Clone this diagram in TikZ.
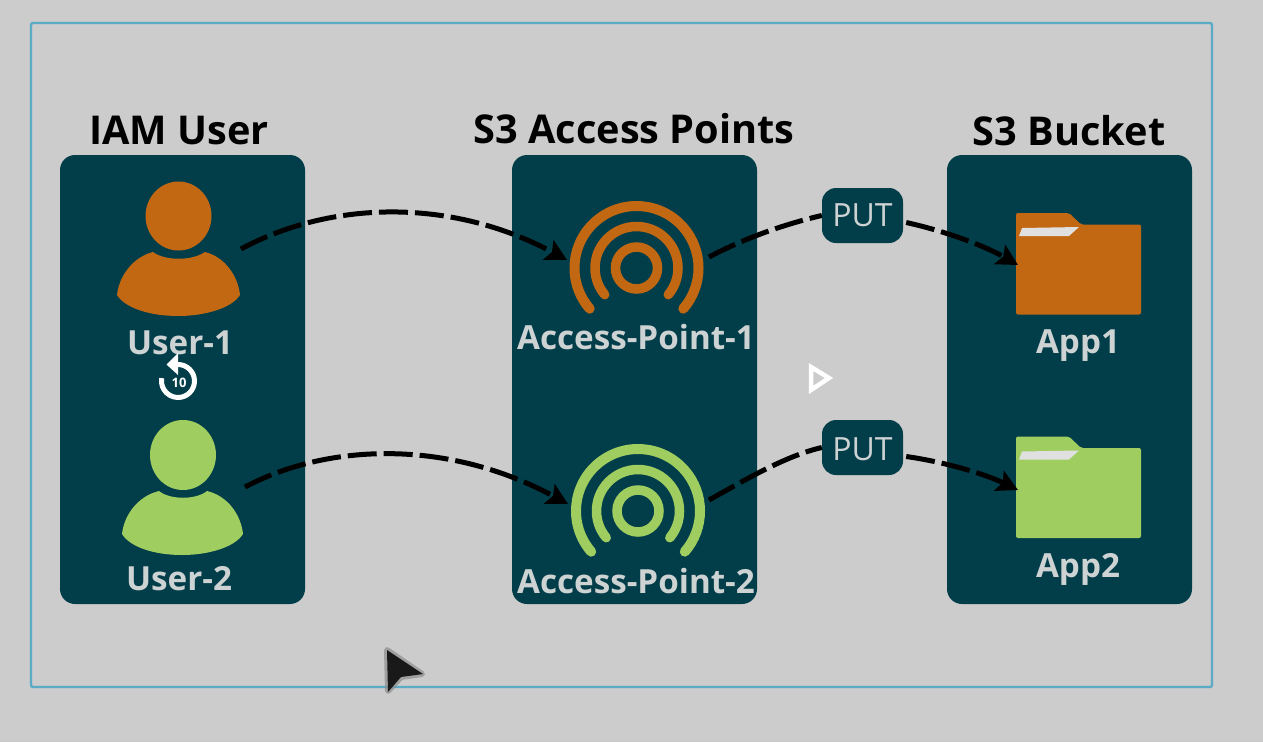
\documentclass[tikz,border=0pt]{standalone}
\usepackage{fontspec}
\setmainfont{Open Sans}
\usetikzlibrary{arrows.meta,calc}
\definecolor{bgc}{HTML}{CCCCCC}
\definecolor{panelc}{HTML}{023E4A}
\definecolor{framec}{HTML}{5BAAC6}
\definecolor{orangec}{HTML}{C26813}
\definecolor{greenc}{HTML}{A0CD60}
\definecolor{labelc}{HTML}{CDD2D3}
\tikzset{
  panel/.style={fill=panelc,rounded corners=15pt,draw=none},
  title/.style={font=\fontsize{39.7}{40}\selectfont\bfseries,text=black,inner sep=0pt},
  label/.style={font=\fontsize{33.2}{33}\selectfont\bfseries,text=labelc,inner sep=0pt},
  putbox/.style={fill=panelc,rounded corners=14pt,minimum width=81pt,minimum height=55pt,inner sep=0pt,
    font=\fontsize{32}{32}\selectfont,text=labelc},
  flow/.style={draw=black,line width=5pt,dash pattern=on 29pt off 7pt},
  tipflow/.style={flow,-{Stealth[length=21pt,width=22pt,inset=4pt]}},
  ring/.style={line width=#1,line cap=round},
}
\begin{document}
\begin{tikzpicture}[x=1pt,y=-1pt]
\useasboundingbox (0,0) rectangle (1263,742);
\fill[bgc] (0,0) rectangle (1263,742);
\draw[framec,line width=2.4pt,rounded corners=2pt] (31,23) rectangle (1212,687);
% panels
\fill[panel] (60,155) rectangle (305,604);
\fill[panel] (512,155) rectangle (757,604);
\fill[panel] (947,155) rectangle (1192,604);
% titles
\node[title] (t1) at (179,130.5) {IAM User};
\node[title] (t2) at (634,129) {S3 Access Points};
\node[title] (t3) at (1069,130.5) {S3 Bucket};
% user 1
\fill[orangec] (178.5,216) ellipse[x radius=33pt,y radius=34.5pt];
\fill[orangec] (153,252) .. controls (165,261) and (192,261) .. (205,252)
  .. controls (225,257) and (238,276) .. (240,295)
  .. controls (232,308) and (205,316) .. (178,316)
  .. controls (150,316) and (125,308) .. (117,295)
  .. controls (119,276) and (133,257) .. (153,252) -- cycle;
\node[label] (u1) at (180,343) {User-1};
% user 2
\fill[greenc] (183,455) ellipse[x radius=33pt,y radius=35pt];
\fill[greenc] (159,491) .. controls (170,500) and (196,500) .. (207,491)
  .. controls (228,496) and (241,515) .. (243,534)
  .. controls (235,547) and (209,555) .. (182,555)
  .. controls (154,555) and (130,547) .. (122,534)
  .. controls (124,515) and (138,496) .. (159,491) -- cycle;
\node[label] (u2) at (179,579) {User-2};
% access points
\coordinate (ap1) at (636.5,268);
\coordinate (ap2) at (638,511);
\foreach \c/\col in {ap1/orangec,ap2/greenc}{
  \draw[\col,line width=9.5pt] (\c) circle[radius=21pt];
  \draw[\col,ring=9.5pt] (\c) ++(220:41.5pt) arc[start angle=220,end angle=-40,radius=41.5pt];
  \draw[\col,ring=10pt] (\c) ++(221:62pt) arc[start angle=221,end angle=-41,radius=62pt];
}
\node[label] (a1) at (636,337.5) {Access-Point-1};
\node[label] (a2) at (636,581.5) {Access-Point-2};
% folders
\foreach \y/\col in {0/orangec,223.5/greenc}{
  \fill[\col,rounded corners=2pt] (1016,213+\y) -- (1069,213+\y) -- (1081,224.5+\y) -- (1141,224.5+\y)
    -- (1141,314.5+\y) -- (1016,314.5+\y) -- cycle;
  \fill[white!88!black] (1022,228+\y) -- (1079,227+\y) -- (1069,236+\y) -- (1019,236+\y) -- cycle;
}
\node[label] (f1) at (1078,345.5) {App1};
\node[label] (f2) at (1078,569.5) {App2};
% PUT boxes
\node[putbox] (p1) at (862.5,215.5) {PUT};
\node[putbox] (p2) at (862.5,447.5) {};
\node[font=\fontsize{32}{32}\selectfont,text=labelc,inner sep=0pt] (p2t) at (862.5,449) {PUT};
% connector ends
\coordinate (s1) at (241,249);
\coordinate (e1) at (567,260);
\coordinate (s2) at (245,487);
\coordinate (e2) at (568,504);
\coordinate (s3) at (709,257);
\coordinate (s4) at (709,500);
\coordinate (e3) at (1018,265);
\coordinate (e4) at (1018,490);
\draw[tipflow] (s1) .. controls (330,201) and (450,197) .. (e1);
\draw[tipflow] (s2) .. controls (330,442) and (450,440) .. (e2);
\draw[flow] (s3) .. controls (745,238) and (785,224) .. (p1.west);
\draw[flow] (s4) .. controls (745,480) and (785,456) .. (p2.west);
\draw[tipflow] (p1.east) ++(3,7) .. controls (945,231) and (985,246) .. (e3);
\draw[tipflow] (p2.east) ++(3,9) .. controls (945,462) and (985,474) .. (e4);
% replay overlay
\coordinate (rp) at (178,381);
\draw[white,line width=5pt] (rp) ++(90:16.5pt) arc[start angle=90,end angle=-190,radius=16.5pt];
\fill[white] (178,353) -- (166.5,364.5) -- (178,375) -- cycle;
\node[text=white,font=\fontsize{13}{13}\selectfont\bfseries,inner sep=0pt] (r10) at (179,383) {10};
% play overlay
\draw[white,line width=4.5pt,line join=miter] (811,367) -- (829,378) -- (811,390) -- cycle;
% pointer
\draw[black!45,line width=6pt,line join=round,opacity=.7] (387,650) -- (422,674) -- (401,677) -- (388,691) -- cycle;
\fill[black!90] (387,650) -- (423,674) -- (401,677) -- (388,692) -- cycle;
\end{tikzpicture}
\end{document}
